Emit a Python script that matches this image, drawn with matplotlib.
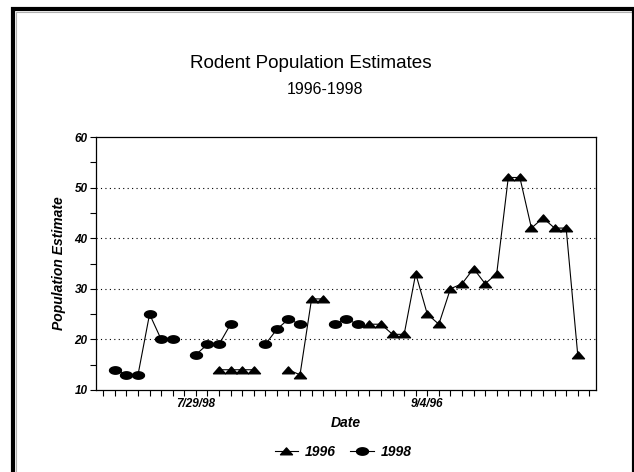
import numpy as np
import matplotlib
matplotlib.use("Agg")
import matplotlib.pyplot as plt
from matplotlib.path import Path
from matplotlib.patches import Rectangle
from matplotlib.lines import Line2D

nan = np.nan

# one slot per sampling date on the category axis
n_slots = 43
tick_labels = [""] * n_slots
tick_labels[8] = "7/29/98"
tick_labels[28] = "9/4/96"

pop_1996 = [nan] * n_slots
for i, v in zip(
    [10, 11, 12, 13, 16, 17, 18, 19, 23, 24, 25, 26, 27, 28, 29, 30, 31, 32, 33, 34, 35, 36, 37, 38, 39, 40, 41],
    [14, 14, 14, 14, 14, 13, 28, 28, 23, 23, 21, 21, 33, 25, 23, 30, 31, 34, 31, 33, 52, 52, 42, 44, 42, 42, 17],
):
    pop_1996[i] = v

pop_1998 = [nan] * n_slots
for i, v in zip(
    [1, 2, 3, 4, 5, 6, 8, 9, 10, 11, 14, 15, 16, 17, 20, 21, 22],
    [14, 13, 13, 25, 20, 20, 17, 19, 19, 23, 19, 22, 24, 23, 23, 24, 23],
):
    pop_1998[i] = v

y_ticks = [10, 20, 30, 40, 50, 60]

# squat markers
tri = Path([(-1, -0.55), (1, -0.55), (0, 0.6), (-1, -0.55)],
           [Path.MOVETO, Path.LINETO, Path.LINETO, Path.CLOSEPOLY])
t = np.linspace(0, 2 * np.pi, 40)
ell = Path(np.column_stack([np.cos(t), 0.62 * np.sin(t)]))

plt.rcParams["font.family"] = ["Liberation Sans Narrow", "Liberation Sans", "DejaVu Sans"]
bi = dict(fontweight="bold", fontstyle="italic")

fig = plt.figure(figsize=(6.34, 4.72), dpi=100)
ax = fig.add_axes([96 / 634, 1 - 390 / 472, 500 / 634, 253 / 472])

x = np.arange(n_slots)
ax.plot(x, pop_1996, color="black", lw=0.8, marker=tri, ms=8.6, label="1996")
ax.plot(x, pop_1998, color="black", lw=0.8, marker=ell, ms=8.6, label="1998")

ax.set_xlim(-0.63, 42.58)
ax.set_ylim(10, 60)
ax.set_xticks(x)
ax.set_xticklabels(tick_labels, fontsize=8.5, **bi)
ax.set_yticks(y_ticks)
ax.set_yticks(np.arange(15, 60, 10), minor=True)
ax.set_yticklabels([str(v) for v in y_ticks], fontsize=8.5, **bi)
ax.tick_params(axis="both", which="both", direction="out", length=4, width=0.8, pad=2)
for sp in ax.spines.values():
    sp.set_linewidth(0.9)

for v in [20, 30, 40, 50]:
    ax.axhline(v, color="black", lw=0.8, ls=(0, (1, 3)), zorder=0)

ax.set_xlabel("Date", fontsize=10, labelpad=4, **bi)
ax.set_ylabel("Population Estimate", fontsize=10, labelpad=6, **bi)

fig.text(0.49, 1 - 63 / 472, "Rodent Population Estimates", fontsize=13.6,
         ha="center", va="center", family=["Liberation Sans", "DejaVu Sans"])
fig.text(0.513, 1 - 89 / 472, "1996-1998", fontsize=11.5,
         ha="center", va="center", family=["Liberation Sans", "DejaVu Sans"])

handles = [
    Line2D([], [], color="black", lw=0.8, marker=tri, ms=8.6),
    Line2D([], [], color="black", lw=0.8, marker=ell, ms=8.6),
]
fig.legend(handles, ["1996", "1998"], loc="center", bbox_to_anchor=(343 / 634, 1 - 452 / 472),
           ncol=2, frameon=False, handlelength=1.7, handletextpad=0.5, columnspacing=1.0,
           prop=dict(size=10, weight="bold", style="italic"))

# outer frame
fig.patches.append(Rectangle((15.5 / 634, -0.05), 1.0, 1 - 11.5 / 472 + 0.05, transform=fig.transFigure,
                             fill=False, ec="#b0b0b0", lw=0.8))
fig.patches.append(Rectangle((13 / 634, -0.02), 1 - 13 / 634, 1 - 9 / 472 + 0.02,
                             transform=fig.transFigure, fill=False, ec="black", lw=3))

fig.savefig("out.png", dpi=100)
